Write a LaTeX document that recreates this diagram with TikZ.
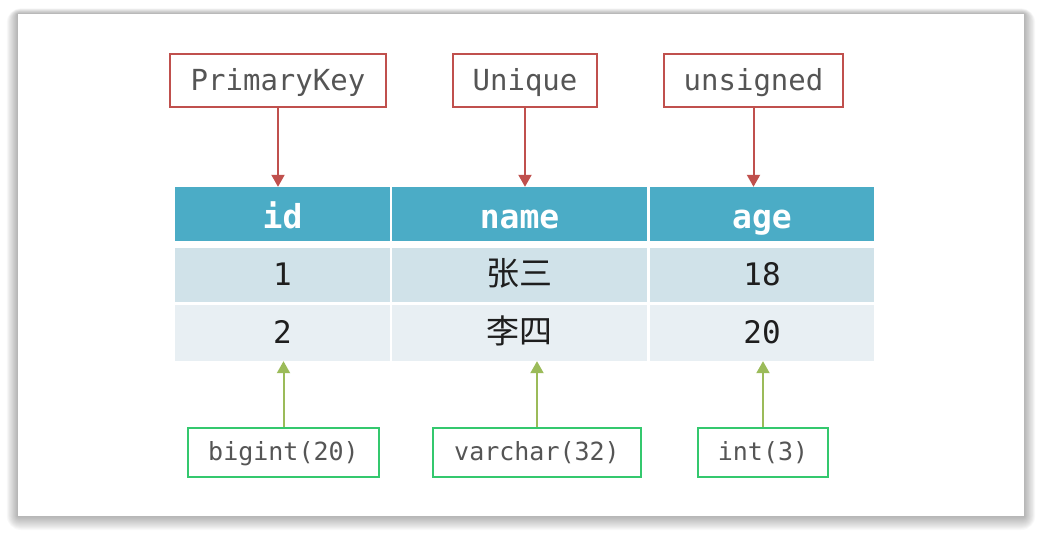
\documentclass[tikz,border=0pt]{standalone}
\usepackage{fontspec}
\setmonofont{DejaVu Sans Mono}
\newfontfamily\cjk{Noto Sans CJK SC}
\usetikzlibrary{arrows.meta}
\definecolor{hdr}{RGB}{75,172,198}
\definecolor{rowa}{RGB}{208,226,233}
\definecolor{rowb}{RGB}{232,239,243}
\definecolor{redc}{RGB}{192,80,77}
\definecolor{greenbox}{RGB}{52,200,110}
\definecolor{greenarr}{RGB}{155,187,89}
\definecolor{labtxt}{RGB}{85,85,85}
\definecolor{celltxt}{RGB}{30,30,30}
\tikzset{
  cell/.style={rectangle, inner sep=0pt, text=celltxt, text height=24pt, text depth=4pt, font=\ttfamily\fontsize{31}{31}\selectfont},
  hcell/.style={rectangle, inner sep=0pt, fill=hdr, text=white, text height=30pt, text depth=2pt, font=\ttfamily\bfseries\fontsize{33}{33}\selectfont},
  cjkcell/.style={cell, font=\cjk\fontsize{33}{33}\selectfont},
  redbox/.style={rectangle, draw=redc, line width=1.5pt, fill=white, inner sep=0pt, text=labtxt, text height=21pt, text depth=2pt, font=\ttfamily\fontsize{29}{29}\selectfont},
  greenlab/.style={rectangle, draw=greenbox, line width=1.5pt, fill=white, inner sep=0pt, text=labtxt, text height=18pt, text depth=3pt, font=\ttfamily\fontsize{25}{25}\selectfont},
  redarrow/.style={draw=redc, line width=2pt, -{Triangle[width=13pt,length=12pt]}},
  greenarrow/.style={draw=greenarr, line width=2pt, -{Triangle[width=13pt,length=12pt]}},
}
\begin{document}
\begin{tikzpicture}[x=1pt,y=-1pt]
\useasboundingbox (0,0) rectangle (1041,535);
% shadow
\foreach \i in {1,...,14}{
  \fill[black, opacity=0.022, rounded corners=\i pt] (18-\i*0.8,14-\i*0.4) rectangle (1024+\i*0.8,516+\i*1.0);
}
\fill[white] (18,14) rectangle (1024,516);
% header
\node[hcell, minimum width=215pt, minimum height=54pt] (h1) at (282.5,214) {id};
\node[hcell, minimum width=255pt, minimum height=54pt] (h2) at (519.5,214) {name};
\node[hcell, minimum width=224pt, minimum height=54pt] (h3) at (762,214) {age};
% row 1
\node[cell, fill=rowa, minimum width=215pt, minimum height=54pt] (a1) at (282.5,275) {1};
\node[cjkcell, fill=rowa, minimum width=255pt, minimum height=54pt] (a2) at (519.5,275) {张三};
\node[cell, fill=rowa, minimum width=224pt, minimum height=54pt] (a3) at (762,275) {18};
% row 2
\node[cell, fill=rowb, minimum width=215pt, minimum height=56pt] (b1) at (282.5,333) {2};
\node[cjkcell, fill=rowb, minimum width=255pt, minimum height=56pt] (b2) at (519.5,333) {李四};
\node[cell, fill=rowb, minimum width=224pt, minimum height=56pt] (b3) at (762,333) {20};
% top labels
\node[redbox, minimum width=216pt, minimum height=53pt] (pk) at (278,80.5) {PrimaryKey};
\node[redbox, minimum width=144pt, minimum height=53pt] (uq) at (525,80.5) {Unique};
\node[redbox, minimum width=179pt, minimum height=53pt] (us) at (753.5,80.5) {unsigned};
% bottom labels
\node[greenlab, minimum width=191pt, minimum height=49pt] (bg) at (283.5,452.5) {bigint(20)};
\node[greenlab, minimum width=208pt, minimum height=49pt] (vc) at (537,452.5) {varchar(32)};
\node[greenlab, minimum width=130pt, minimum height=49pt] (it) at (763,452.5) {int(3)};
% arrows
\draw[redarrow] (pk.south) -- (pk.south |- h1.north);
\draw[redarrow] (uq.south) -- (uq.south |- h2.north);
\draw[redarrow] (us.south) -- (us.south |- h3.north);
\draw[greenarrow] (bg.north) -- (bg.north |- b1.south);
\draw[greenarrow] (vc.north) -- (vc.north |- b2.south);
\draw[greenarrow] (it.north) -- (it.north |- b3.south);
\end{tikzpicture}
\end{document}
